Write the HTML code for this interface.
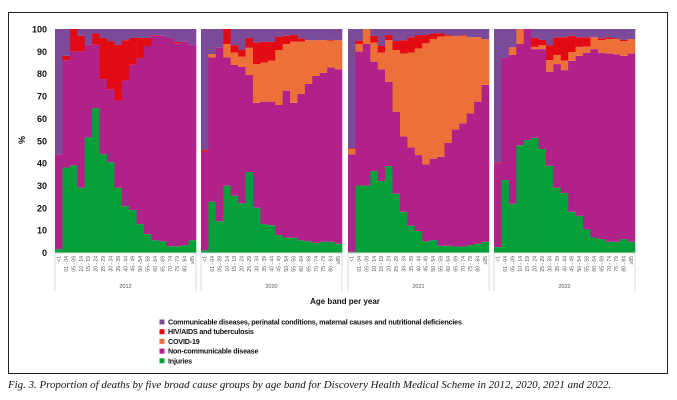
<!DOCTYPE html>
<html><head><meta charset="utf-8"><style>
body{margin:0;background:#fff;width:677px;height:400px;overflow:hidden;font-family:"Liberation Sans",sans-serif}
#frame{position:absolute;left:8px;top:12px;width:660px;height:362px;border:1px solid #222;box-sizing:border-box}
#cap{position:absolute;left:8px;top:379px;font-family:"Liberation Serif",serif;font-style:italic;font-size:10.9px;color:#111;white-space:nowrap}
</style></head><body>
<div id="frame"></div>
<svg id="chart" width="677" height="400" style="position:absolute;left:0;top:0"></svg>
<div id="cap">Fig. 3. Proportion of deaths by five broad cause groups by age band for Discovery Health Medical Scheme in 2012, 2020, 2021 and 2022.</div>
<script>
const ageBands=["<1","01 - 04","05 - 09","10 - 14","15 - 19","20 - 24","25 - 29","30 - 34","35 - 39","40 - 44","45 - 49","50 - 54","55 - 59","60 - 64","65 - 69","70 - 74","75 - 79","80 - 84","≥85"];
const years=["2012","2020","2021","2022"];
const yTicks=[0,10,20,30,40,50,60,70,80,90,100];
// cumulative tops (%) per cause, stacked bottom-up: injuries, NCD, COVID, HIV; communicable fills to 100
const injuriesTop={
"2012":[1.5,38,39,29,51.5,64.6,44,40.4,29,20.7,19,12.7,8.2,5.5,5,2.8,2.8,3.3,5.5],
"2020":[1,22.7,14,29.9,25.4,22,36,20,12.7,12.2,7.8,6.7,6.6,5.5,5,4.3,4.8,4.8,3.9],
"2021":[0.3,30,29.9,36.4,32,38.7,26.3,18.2,12,9.6,5,5.5,3,3,2.7,2.7,3.3,3.9,4.8],
"2022":[2.4,32.4,21.8,48,50.3,51.3,46.3,38.8,29,26.6,18.2,16.4,10.3,6.7,6,4.8,4.8,6,4.8]};
const ncdTop={
"2012":[44,86,90,90,93,93,77.6,73,68,77,84,87,92.4,97,97,96,93.6,94.5,92.8],
"2020":[45,87.3,91.8,87.3,83.9,83,79.4,67,67.5,67.5,66,72.4,67,70.9,75.4,79,80.4,82.8,82],
"2021":[44,89.9,93.3,85.4,82,76.4,63,52,47,43.6,39.4,42,42.8,49,55,57.8,62.2,67.5,75],
"2022":[39.9,87.3,88.4,93.3,100,91,91,80.9,84.3,81.6,85.8,88,89.4,91,89.4,89,88.7,88,89]};
const covidTop={
"2012":[44,86,90,90,93,93,77.6,73,68,77,84,87,92.4,97,97,96,93.6,94.5,92.8],
"2020":[45,88.8,91.8,93.3,89.4,87.6,91.6,84.3,85,85.8,90.6,93.3,94.3,94.3,95,95,95,94.8,95],
"2021":[46.3,93.3,100,93.9,89.4,95,90.6,89,89.4,91.3,93.6,95.5,96.6,96.9,96.9,96.9,96.3,96.3,95.5],
"2022":[39.9,87.3,91.8,100,100,92,92.8,86.1,88.4,85.8,89.7,92,92.2,96.3,95,95.5,95.5,94.6,95.5]};
const hivTop={
"2012":[44,88,100,97,93,98,96,94.6,93,95,96,96,96,97.3,97,96,94.2,94.5,92.8],
"2020":[45.8,88.8,91.8,100,92.8,90.6,96,93.9,94.3,94.3,96.6,97,97.3,95.8,95,95,95,95.1,95],
"2021":[46.7,94.8,100,96.9,92.4,97.3,94.6,95,96.3,97.3,97.3,98,98,97.3,96.9,97.2,96.3,96.3,95.5],
"2022":[40.3,87.3,91.8,100,100,96,95.1,92.8,96.3,96.3,97,96.3,96.3,96.3,95.8,96.3,95.8,95.1,95.5]};
const legendLabels=["Communicable diseases, perinatal conditions, maternal causes and nutritional deficiencies","HIV/AIDS and tuberculosis","COVID-19","Non-communicable disease","Injuries"];

const C={comm:"#7b4a98",hiv:"#e30b13",cov:"#ec7038",ncd:"#b0218a",inj:"#05a03a"};
const svg=document.getElementById('chart');const NS="http://www.w3.org/2000/svg";
function mk(t,a,p){const e=document.createElementNS(NS,t);for(const k in a)e.setAttribute(k,a[k]);(p||svg).appendChild(e);return e;}
const y0=252.5,y100=29;
function yS(v){return y0-(y0-y100)*v/100;}
const panelX=[55,201,348,494],panelW=141;
yTicks.forEach(t=>{const e=mk('text',{x:47,y:yS(t)+3.5,'text-anchor':'end','font-size':9,'font-weight':'bold',fill:'#111'});e.textContent=t;

});
const yt=mk('text',{x:25,y:140,'text-anchor':'middle','font-size':9,'font-weight':'bold',fill:'#111',transform:'rotate(-90 25 140)'});yt.textContent='%';


years.forEach((yr,p)=>{
 const g=mk('g',{});
 
 
 const n=ageBands.length,bw=panelW/n,x0=panelX[p];
 ageBands.forEach((ab,i)=>{
  const x=x0+i*bw;
  const segs=[[0,injuriesTop[yr][i],C.inj,'injuries'],[injuriesTop[yr][i],ncdTop[yr][i],C.ncd,'ncd'],[ncdTop[yr][i],covidTop[yr][i],C.cov,'covid'],[covidTop[yr][i],hivTop[yr][i],C.hiv,'hiv'],[hivTop[yr][i],100,C.comm,'communicable']];
  segs.forEach(s=>{if(s[1]>s[0]){const r=mk('rect',{x:x,y:yS(s[1]),width:bw+0.3,height:yS(s[0])-yS(s[1]),fill:s[2]},g);
   
   }});
  const tx=x+bw/2+1.8,ty=256;
  const l=mk('text',{x:tx,y:ty,'text-anchor':'end','font-size':5,fill:'#555',transform:`rotate(-90 ${tx} ${ty})`},g);l.textContent=ab;
  
  
 });
 mk('line',{x1:x0,y1:253,x2:x0,y2:291,stroke:'#ccc','stroke-width':0.7},g);
 mk('line',{x1:x0+panelW,y1:253,x2:x0+panelW,y2:291,stroke:'#ccc','stroke-width':0.7},g);
 mk('line',{x1:x0,y1:253,x2:x0+panelW,y2:253,stroke:'#ccc','stroke-width':0.7},g);
 const yl=mk('text',{x:x0+panelW/2,y:288,'text-anchor':'middle','font-size':5.5,fill:'#555'},g);yl.textContent=yr;
 
 
});
const xt=mk('text',{x:345,y:304,'text-anchor':'middle','font-size':8,'font-weight':'bold',fill:'#111'});xt.textContent='Age band per year';


const lc=[C.comm,C.hiv,C.cov,C.ncd,C.inj];
legendLabels.forEach((t,i)=>{const y=322+i*9.7;
 const g=mk('g',{});
 
 
 mk('rect',{x:159.5,y:y-2.5,width:5,height:5,fill:lc[i]},g);
 const e=mk('text',{x:168,y:y+2.5,'font-size':7.2,'font-weight':'bold',fill:'#111','letter-spacing':'-0.2'},g);e.textContent=t;});
</script>
</body></html>
